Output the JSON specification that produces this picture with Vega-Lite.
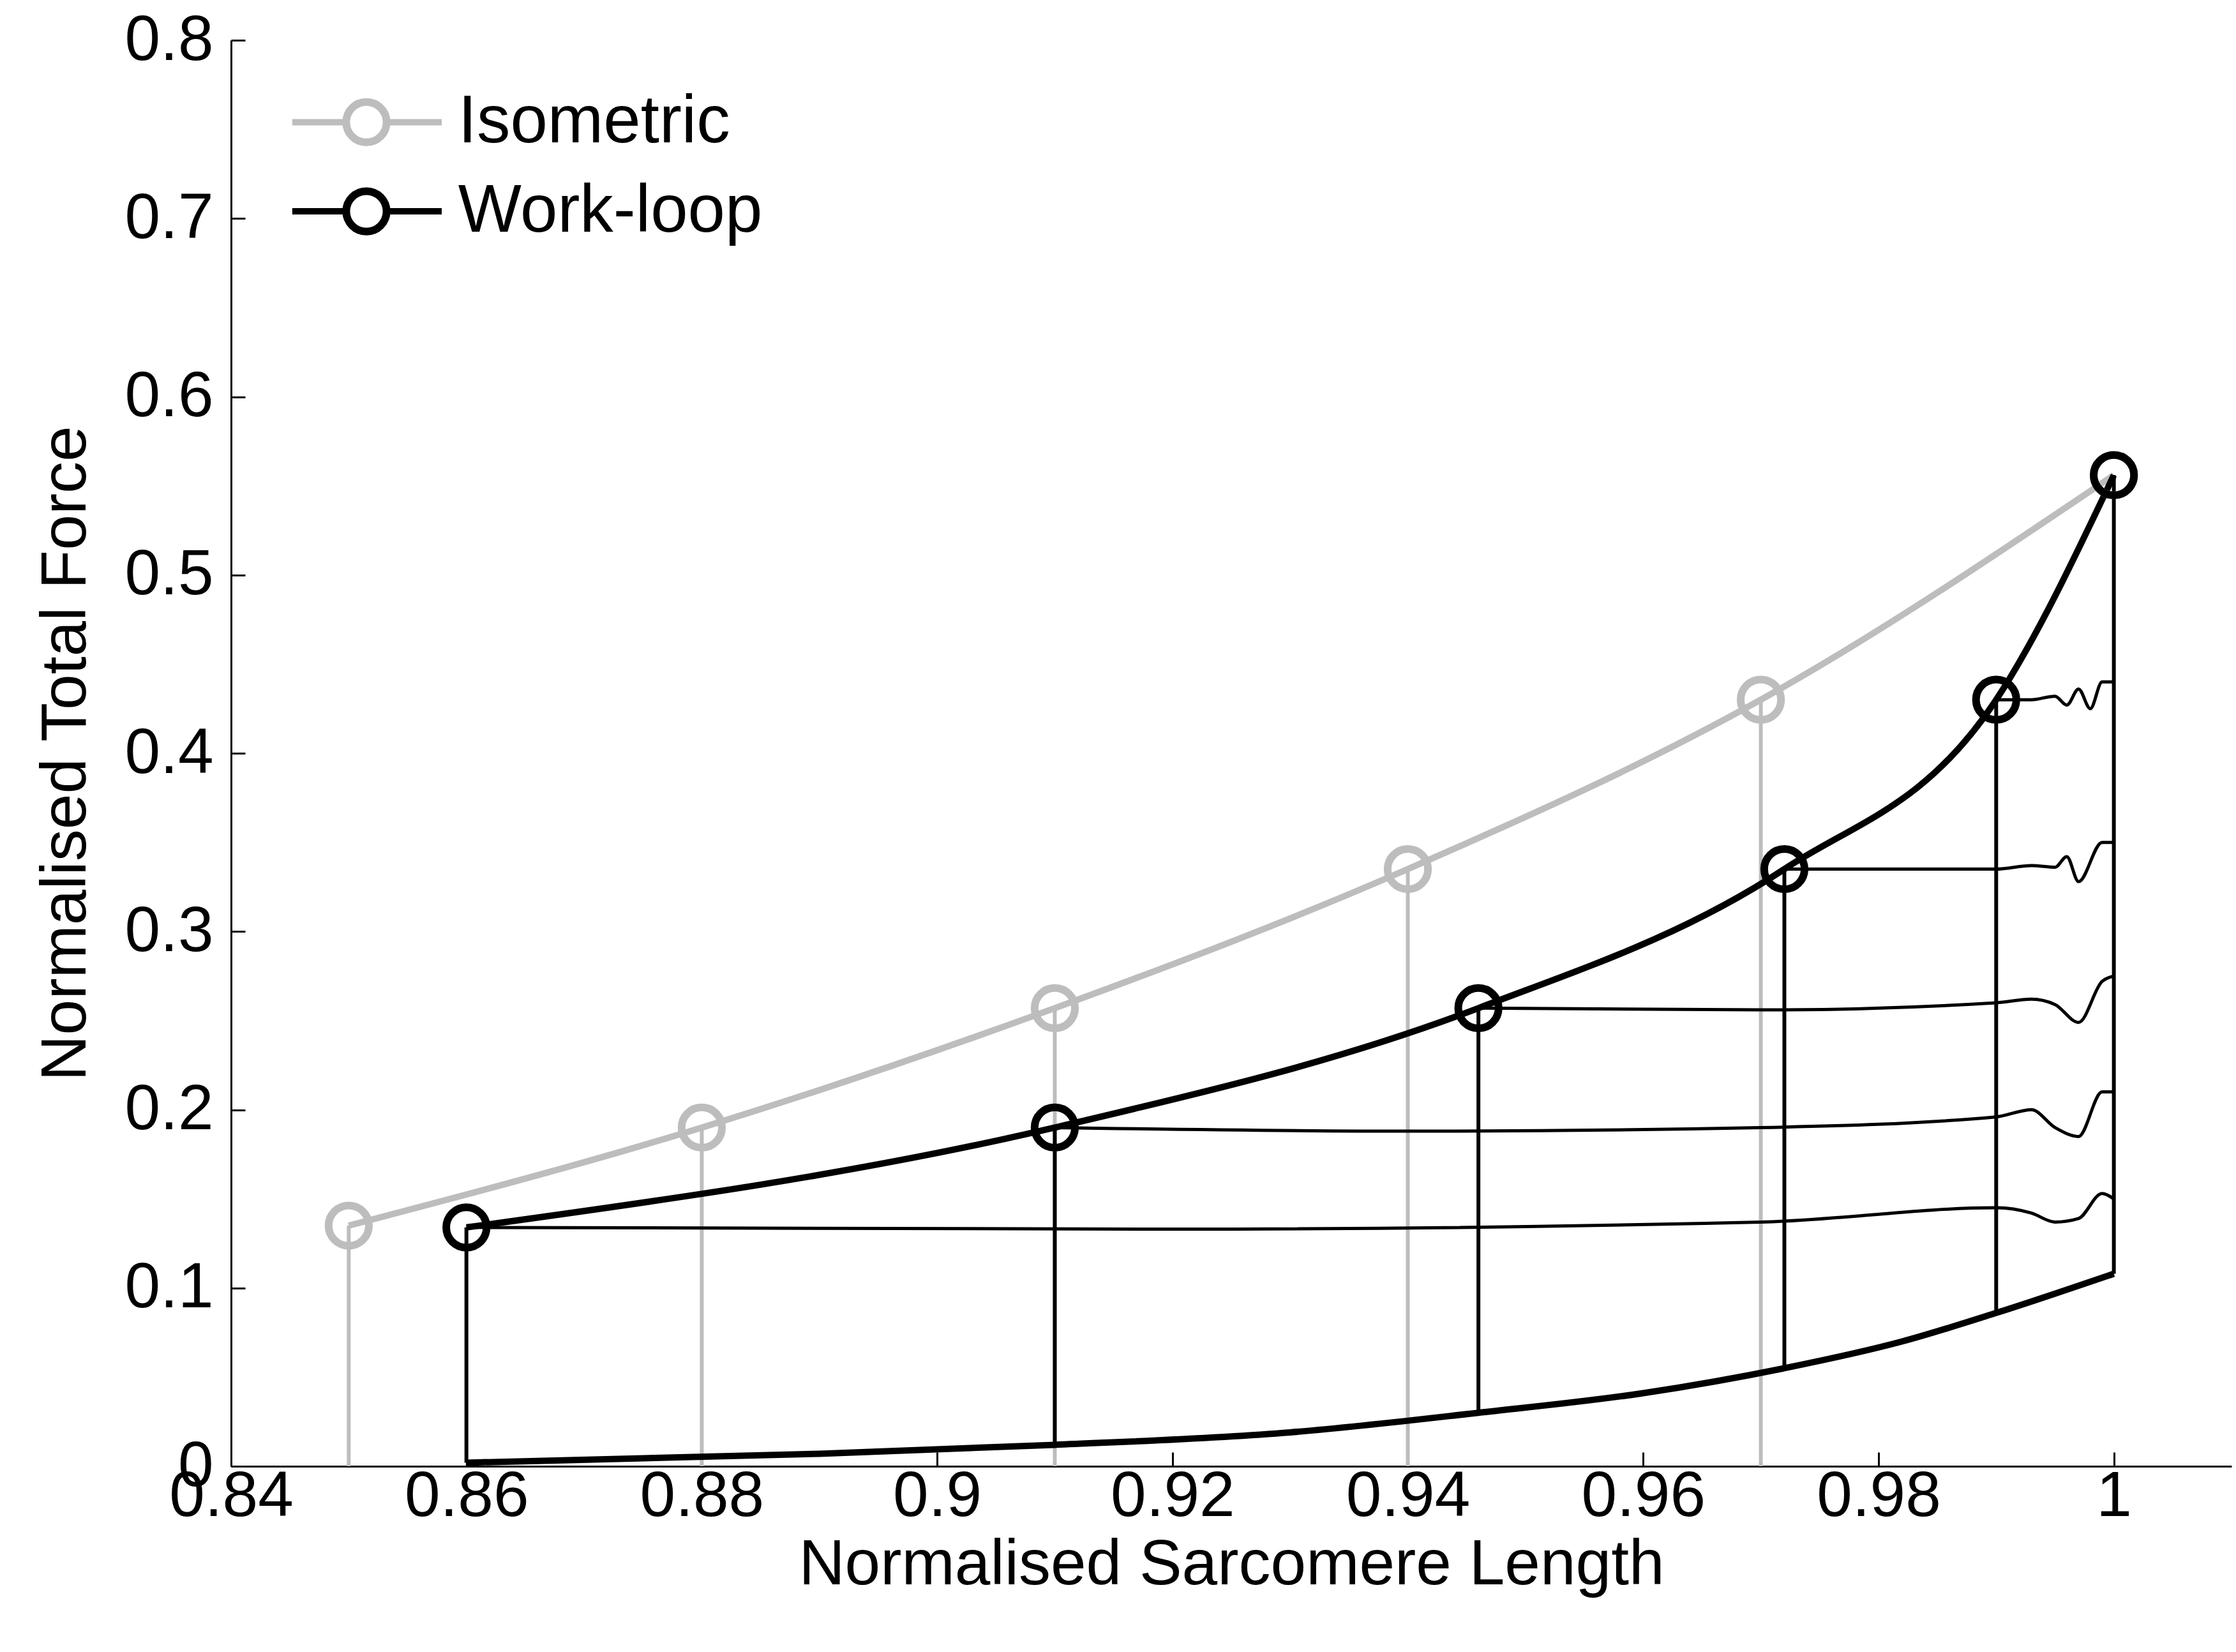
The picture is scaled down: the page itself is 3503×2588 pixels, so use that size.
{
  "$schema": "https://vega.github.io/schema/vega-lite/v6.json",
  "width": 3134,
  "height": 2234,
  "autosize": "none",
  "padding": {"left": 362, "top": 63, "right": 7, "bottom": 291},
  "background": "white",
  "config": {
    "view": {"stroke": null},
    "font": "Liberation Sans",
    "axis": {
      "grid": false, "domainColor": "black", "domainWidth": 3, "tickColor": "black", "tickWidth": 3,
      "tickSize": -22, "labelColor": "black", "labelFontSize": 100, "titleFontSize": 100, "labelLimit": 0,
      "titleFontWeight": "normal", "titleColor": "black", "labelFont": "Liberation Sans", "titleFont": "Liberation Sans",
      "labelExpr": "format(datum.value, '~g')"
    }
  },
  "datasets": {
    "isoV": [
      {"x": 0.85, "y0": 0, "y1": 0.135}, {"x": 0.88, "y0": 0, "y1": 0.19},
      {"x": 0.91, "y0": 0, "y1": 0.257}, {"x": 0.94, "y0": 0, "y1": 0.335},
      {"x": 0.97, "y0": 0, "y1": 0.43}
    ],
    "wlV": [
      {"x": 0.86, "y0": 0.002, "y1": 0.134}, {"x": 0.91, "y0": 0.012, "y1": 0.19},
      {"x": 0.946, "y0": 0.03, "y1": 0.257}, {"x": 0.972, "y0": 0.055, "y1": 0.335},
      {"x": 0.99, "y0": 0.086, "y1": 0.43}, {"x": 1.0, "y0": 0.108, "y1": 0.556}
    ],
    "lines": [
      {"s": "iso", "k": "iso", "o": 1, "x": 0.85, "y": 0.135},
      {"s": "iso", "k": "iso", "o": 2, "x": 0.88, "y": 0.19},
      {"s": "iso", "k": "iso", "o": 3, "x": 0.91, "y": 0.257},
      {"s": "iso", "k": "iso", "o": 4, "x": 0.94, "y": 0.335},
      {"s": "iso", "k": "iso", "o": 5, "x": 0.97, "y": 0.43},
      {"s": "iso", "k": "iso", "o": 6, "x": 1.0, "y": 0.556},
      {"s": "wl", "k": "wl", "o": 1, "x": 0.86, "y": 0.134},
      {"s": "wl", "k": "wl", "o": 2, "x": 0.91, "y": 0.19},
      {"s": "wl", "k": "wl", "o": 3, "x": 0.946, "y": 0.257},
      {"s": "wl", "k": "wl", "o": 4, "x": 0.972, "y": 0.335},
      {"s": "wl", "k": "wl", "o": 5, "x": 0.99, "y": 0.43},
      {"s": "wl", "k": "wl", "o": 6, "x": 1.0, "y": 0.556},
      {"s": "pas", "k": "wl", "o": 1, "x": 0.86, "y": 0.002},
      {"s": "pas", "k": "wl", "o": 2, "x": 0.89, "y": 0.007},
      {"s": "pas", "k": "wl", "o": 3, "x": 0.91, "y": 0.012},
      {"s": "pas", "k": "wl", "o": 4, "x": 0.93, "y": 0.019},
      {"s": "pas", "k": "wl", "o": 5, "x": 0.946, "y": 0.03},
      {"s": "pas", "k": "wl", "o": 6, "x": 0.96, "y": 0.041},
      {"s": "pas", "k": "wl", "o": 7, "x": 0.972, "y": 0.055},
      {"s": "pas", "k": "wl", "o": 8, "x": 0.982, "y": 0.07},
      {"s": "pas", "k": "wl", "o": 9, "x": 0.99, "y": 0.086},
      {"s": "pas", "k": "wl", "o": 10, "x": 1.0, "y": 0.108},
      {"s": "t1", "k": "tr", "o": 1, "x": 0.86, "y": 0.134},
      {"s": "t1", "k": "tr", "o": 2, "x": 0.92, "y": 0.133},
      {"s": "t1", "k": "tr", "o": 3, "x": 0.97, "y": 0.137},
      {"s": "t1", "k": "tr", "o": 4, "x": 0.99, "y": 0.145},
      {"s": "t1", "k": "tr", "o": 5, "x": 0.993, "y": 0.142},
      {"s": "t1", "k": "tr", "o": 6, "x": 0.995, "y": 0.137},
      {"s": "t1", "k": "tr", "o": 7, "x": 0.997, "y": 0.139},
      {"s": "t1", "k": "tr", "o": 8, "x": 0.999, "y": 0.153},
      {"s": "t1", "k": "tr", "o": 9, "x": 1.0, "y": 0.15},
      {"s": "t2", "k": "tr", "o": 1, "x": 0.91, "y": 0.19},
      {"s": "t2", "k": "tr", "o": 2, "x": 0.94, "y": 0.188},
      {"s": "t2", "k": "tr", "o": 3, "x": 0.97, "y": 0.19},
      {"s": "t2", "k": "tr", "o": 4, "x": 0.99, "y": 0.196},
      {"s": "t2", "k": "tr", "o": 5, "x": 0.993, "y": 0.2},
      {"s": "t2", "k": "tr", "o": 6, "x": 0.995, "y": 0.19},
      {"s": "t2", "k": "tr", "o": 7, "x": 0.997, "y": 0.185},
      {"s": "t2", "k": "tr", "o": 8, "x": 0.999, "y": 0.21},
      {"s": "t2", "k": "tr", "o": 9, "x": 1.0, "y": 0.21},
      {"s": "t3", "k": "tr", "o": 1, "x": 0.946, "y": 0.257},
      {"s": "t3", "k": "tr", "o": 2, "x": 0.97, "y": 0.256},
      {"s": "t3", "k": "tr", "o": 3, "x": 0.99, "y": 0.26},
      {"s": "t3", "k": "tr", "o": 4, "x": 0.993, "y": 0.262},
      {"s": "t3", "k": "tr", "o": 5, "x": 0.995, "y": 0.259},
      {"s": "t3", "k": "tr", "o": 6, "x": 0.997, "y": 0.249},
      {"s": "t3", "k": "tr", "o": 7, "x": 0.999, "y": 0.272},
      {"s": "t3", "k": "tr", "o": 8, "x": 1.0, "y": 0.275},
      {"s": "t4", "k": "tr", "o": 1, "x": 0.972, "y": 0.335},
      {"s": "t4", "k": "tr", "o": 2, "x": 0.99, "y": 0.335},
      {"s": "t4", "k": "tr", "o": 3, "x": 0.993, "y": 0.337},
      {"s": "t4", "k": "tr", "o": 4, "x": 0.995, "y": 0.336},
      {"s": "t4", "k": "tr", "o": 5, "x": 0.996, "y": 0.342},
      {"s": "t4", "k": "tr", "o": 6, "x": 0.997, "y": 0.328},
      {"s": "t4", "k": "tr", "o": 7, "x": 0.999, "y": 0.35},
      {"s": "t4", "k": "tr", "o": 8, "x": 1.0, "y": 0.35},
      {"s": "t5", "k": "tr", "o": 1, "x": 0.99, "y": 0.43},
      {"s": "t5", "k": "tr", "o": 2, "x": 0.993, "y": 0.43},
      {"s": "t5", "k": "tr", "o": 3, "x": 0.995, "y": 0.432},
      {"s": "t5", "k": "tr", "o": 4, "x": 0.996, "y": 0.427},
      {"s": "t5", "k": "tr", "o": 5, "x": 0.997, "y": 0.436},
      {"s": "t5", "k": "tr", "o": 6, "x": 0.998, "y": 0.425},
      {"s": "t5", "k": "tr", "o": 7, "x": 0.999, "y": 0.44},
      {"s": "t5", "k": "tr", "o": 8, "x": 1.0, "y": 0.44}
    ],
    "pts": [
      {"k": "iso", "x": 0.85, "y": 0.135}, {"k": "iso", "x": 0.88, "y": 0.19},
      {"k": "iso", "x": 0.91, "y": 0.257}, {"k": "iso", "x": 0.94, "y": 0.335},
      {"k": "iso", "x": 0.97, "y": 0.43}, {"k": "iso", "x": 1.0, "y": 0.556},
      {"k": "wl", "x": 0.86, "y": 0.134}, {"k": "wl", "x": 0.91, "y": 0.19},
      {"k": "wl", "x": 0.946, "y": 0.257}, {"k": "wl", "x": 0.972, "y": 0.335},
      {"k": "wl", "x": 0.99, "y": 0.43}, {"k": "wl", "x": 1.0, "y": 0.556}
    ],
    "leg": [
      {"k": "iso", "label": "Isometric", "x0": 0.8452, "x1": 0.8579, "xc": 0.8515, "xt": 0.8593, "y": 0.754},
      {"k": "wl", "label": "Work-loop", "x0": 0.8452, "x1": 0.8579, "xc": 0.8515, "xt": 0.8593, "y": 0.704}
    ]
  },
  "layer": [
    {
      "data": {"name": "isoV"},
      "mark": {"type": "rule", "color": "#bdbdbd", "strokeWidth": 6},
      "encoding": {
        "x": {"field": "x", "type": "quantitative", "scale": {"domain": [0.84, 1.01], "nice": false},
          "axis": {"values": [0.84, 0.86, 0.88, 0.9, 0.92, 0.94, 0.96, 0.98, 1], "labelPadding": 20, "titlePadding": 8, "labelFlush": false},
          "title": "Normalised Sarcomere Length"},
        "y": {"field": "y0", "type": "quantitative", "scale": {"domain": [0, 0.8], "nice": false},
          "axis": {"values": [0, 0.1, 0.2, 0.3, 0.4, 0.5, 0.6, 0.7, 0.8], "labelPadding": 50, "titlePadding": 40, "labelFlush": false},
          "title": "Normalised Total Force"},
        "y2": {"field": "y1"}
      }
    },
    {
      "data": {"name": "wlV"},
      "mark": {"type": "rule", "color": "black", "strokeWidth": 6},
      "encoding": {
        "x": {"field": "x", "type": "quantitative"},
        "y": {"field": "y0", "type": "quantitative"},
        "y2": {"field": "y1"}
      }
    },
    {
      "data": {"name": "lines"},
      "mark": {"type": "line", "strokeJoin": "round", "interpolate": "monotone"},
      "encoding": {
        "x": {"field": "x", "type": "quantitative"},
        "y": {"field": "y", "type": "quantitative"},
        "detail": {"field": "s"},
        "order": {"field": "o"},
        "color": {"field": "k", "type": "nominal", "scale": {"domain": ["iso", "wl", "tr"], "range": ["#bdbdbd", "black", "black"]}, "legend": null},
        "strokeWidth": {"field": "k", "type": "nominal", "scale": {"type": "ordinal", "domain": ["iso", "wl", "tr"], "range": [10, 10, 5]}, "legend": null}
      }
    },
    {
      "data": {"name": "pts"},
      "mark": {"type": "point", "shape": "circle", "filled": false, "strokeWidth": 12, "size": 4000, "opacity": 1},
      "encoding": {
        "x": {"field": "x", "type": "quantitative"},
        "y": {"field": "y", "type": "quantitative"},
        "stroke": {"field": "k", "type": "nominal", "scale": {"domain": ["iso", "wl"], "range": ["#bdbdbd", "black"]}, "legend": null}
      }
    },
    {
      "data": {"name": "leg"},
      "mark": {"type": "rule", "strokeWidth": 10},
      "encoding": {
        "x": {"field": "x0", "type": "quantitative"},
        "x2": {"field": "x1"},
        "y": {"field": "y", "type": "quantitative"},
        "color": {"field": "k", "type": "nominal", "legend": null}
      }
    },
    {
      "data": {"name": "leg"},
      "mark": {"type": "point", "shape": "circle", "filled": true, "fill": "white", "strokeWidth": 12, "size": 4000, "opacity": 1},
      "encoding": {
        "x": {"field": "xc", "type": "quantitative"},
        "y": {"field": "y", "type": "quantitative"},
        "stroke": {"field": "k", "type": "nominal", "legend": null}
      }
    },
    {
      "data": {"name": "leg"},
      "mark": {"type": "text", "align": "left", "baseline": "middle", "fontSize": 105, "color": "black", "font": "Liberation Sans"},
      "encoding": {
        "x": {"field": "xt", "type": "quantitative"},
        "y": {"field": "y", "type": "quantitative"},
        "text": {"field": "label"}
      }
    }
  ]
}
